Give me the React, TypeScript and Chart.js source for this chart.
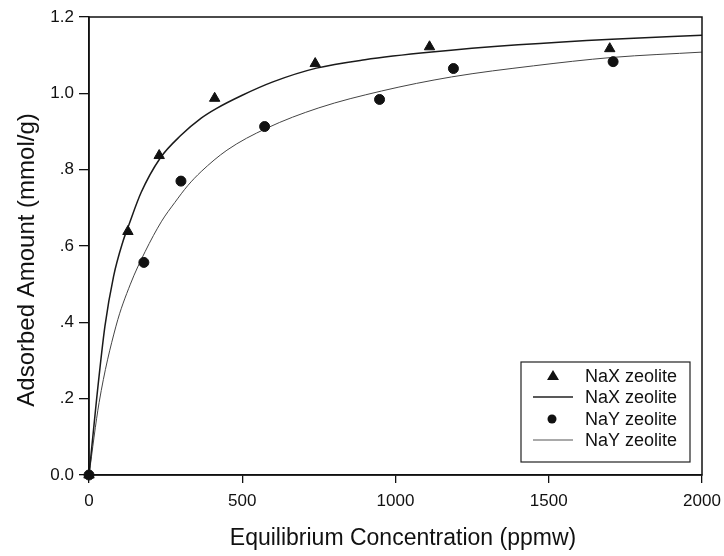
import React, { useEffect, useRef } from "react";
import { Chart, registerables } from "chart.js";

Chart.register(...registerables);

const naxConc = [0, 127, 229, 410, 738, 1111, 1699];
const naxAmount = [0, 0.638, 0.837, 0.987, 1.078, 1.122, 1.117];

const nayConc = [0, 179, 300, 573, 948, 1189, 1710];
const nayAmount = [0, 0.557, 0.77, 0.913, 0.984, 1.065, 1.083];

const naxFitConc = [0, 25, 52, 80, 110, 130, 170, 232, 300, 366, 415, 500, 600, 742, 900, 1118, 1400, 1706, 2000];
const naxFitAmount = [0, 0.2, 0.39, 0.52, 0.61, 0.655, 0.74, 0.83, 0.89, 0.935, 0.96, 0.995, 1.03, 1.066, 1.088, 1.108, 1.127, 1.142, 1.152];

const nayFitConc = [0, 33, 88, 135, 183, 237, 280, 322, 366, 450, 578, 750, 954, 1183, 1450, 1706, 2000];
const nayFitAmount = [0, 0.19, 0.39, 0.5, 0.585, 0.665, 0.714, 0.758, 0.795, 0.851, 0.908, 0.962, 1.006, 1.043, 1.072, 1.094, 1.108];

const xTicks = [0, 500, 1000, 1500, 2000];
const yTicks = [0, 0.2, 0.4, 0.6, 0.8, 1.0, 1.2];
const yTickLabels = ["0.0", ".2", ".4", ".6", ".8", "1.0", "1.2"];

const xTitle = "Equilibrium Concentration (ppmw)";
const yTitle = "Adsorbed Amount (mmol/g)";
const legendLabels = ["NaX zeolite", "NaX zeolite", "NaY zeolite", "NaY zeolite"];

const FONT = "'Liberation Sans', Arial, sans-serif";

const toXY = (xs: number[], ys: number[]) => xs.map((x, i) => ({ x, y: ys[i] }));

const framePlugin = {
  id: "frame",
  afterDraw(chart: any) {
    const { ctx, chartArea } = chart;
    ctx.save();
    ctx.strokeStyle = "#111";
    ctx.lineWidth = 1.5;
    ctx.strokeRect(chartArea.left, chartArea.top, chartArea.right - chartArea.left, chartArea.bottom - chartArea.top);

    // axis titles
    ctx.fillStyle = "#111";
    ctx.textBaseline = "alphabetic";
    ctx.textAlign = "center";
    ctx.font = `23px ${FONT}`;
    ctx.fillText(xTitle, 403, 545);
    ctx.save();
    ctx.translate(34, 260);
    ctx.rotate(-Math.PI / 2);
    ctx.font = `24px ${FONT}`;
    ctx.fillText(yTitle, 0, 0);
    ctx.restore();

    // legend box
    const bx = 521, by = 362, bw = 169, bh = 100;
    ctx.fillStyle = "#fff";
    ctx.fillRect(bx, by, bw, bh);
    ctx.lineWidth = 1.2;
    ctx.strokeStyle = "#222";
    ctx.strokeRect(bx, by, bw, bh);
    const rows = [376, 397, 419, 440];
    ctx.font = `18px ${FONT}`;
    ctx.fillStyle = "#111";
    ctx.textBaseline = "middle";
    ctx.textAlign = "left";
    rows.forEach((ry, i) => {
      ctx.fillText(legendLabels[i], 585, ry + 1);
    });
    // triangle
    ctx.beginPath();
    ctx.moveTo(553, rows[0] - 6);
    ctx.lineTo(559, rows[0] + 4);
    ctx.lineTo(547, rows[0] + 4);
    ctx.closePath();
    ctx.fill();
    // circle
    ctx.beginPath();
    ctx.arc(552, rows[2], 4.5, 0, Math.PI * 2);
    ctx.fill();
    // lines
    ctx.strokeStyle = "#222";
    ctx.lineWidth = 1.3;
    ctx.beginPath();
    ctx.moveTo(533, rows[1]);
    ctx.lineTo(573, rows[1]);
    ctx.stroke();
    ctx.strokeStyle = "#555";
    ctx.lineWidth = 1;
    ctx.beginPath();
    ctx.moveTo(533, rows[3]);
    ctx.lineTo(573, rows[3]);
    ctx.stroke();
    ctx.restore();
  },
};

export default function App() {
  const ref = useRef<HTMLCanvasElement | null>(null);
  useEffect(() => {
    if (!ref.current) return;
    const chart = new Chart(ref.current, {
      type: "scatter",
      data: {
        datasets: [
          {
            label: legendLabels[0],
            data: toXY(naxConc, naxAmount),
            pointStyle: "triangle",
            pointRadius: 6,
            backgroundColor: "#111",
            borderColor: "#111",
            showLine: false,
            clip: false,
          } as any,
          {
            label: legendLabels[1],
            data: toXY(naxFitConc, naxFitAmount),
            showLine: true,
            pointRadius: 0,
            borderColor: "#1a1a1a",
            borderWidth: 1.5,
            cubicInterpolationMode: "monotone",
          },
          {
            label: legendLabels[2],
            data: toXY(nayConc, nayAmount),
            pointStyle: "circle",
            pointRadius: 5,
            backgroundColor: "#111",
            borderColor: "#111",
            showLine: false,
            clip: false,
          } as any,
          {
            label: legendLabels[3],
            data: toXY(nayFitConc, nayFitAmount),
            showLine: true,
            pointRadius: 0,
            borderColor: "#444",
            borderWidth: 1,
            cubicInterpolationMode: "monotone",
          },
        ],
      },
      options: {
        animation: false,
        responsive: false,
        layout: { padding: { top: 17, right: 22, left: 0, bottom: 0 } },
        plugins: { legend: { display: false }, tooltip: { enabled: false } },
        scales: {
          x: {
            type: "linear",
            min: 0,
            max: 2000,
            afterBuildTicks: (s: any) => {
              s.ticks = xTicks.map((v) => ({ value: v }));
            },
            afterFit: (s: any) => {
              s.height = 81;
              s.paddingLeft = 0;
              s.paddingRight = 0;
            },
            ticks: {
              color: "#111",
              font: { family: FONT, size: 17 },
              padding: 8,
              maxRotation: 0,
              callback: (v: any) => String(v),
            },
            grid: { drawOnChartArea: false, drawTicks: true, tickLength: 8, color: "#111", lineWidth: 1.3 },
            border: { display: true, color: "#111", width: 1.5 },
            title: { display: false },
          },
          y: {
            type: "linear",
            min: 0,
            max: 1.2,
            afterBuildTicks: (s: any) => {
              s.ticks = yTicks.map((v) => ({ value: v }));
            },
            afterFit: (s: any) => {
              s.width = 89;
              s.paddingTop = 0;
              s.paddingBottom = 0;
            },
            ticks: {
              color: "#111",
              font: { family: FONT, size: 17 },
              padding: 5,
              callback: (v: any, i: number) => yTickLabels[i],
            },
            grid: { drawOnChartArea: false, drawTicks: true, tickLength: 10, color: "#111", lineWidth: 1.3 },
            border: { display: true, color: "#111", width: 1.5 },
            title: { display: false },
          },
        },
      },
      plugins: [framePlugin],
    });
    return () => chart.destroy();
  }, []);
  return (
    <div style={{ position: "fixed", left: 0, top: 0, width: 724, height: 556, background: "#fff" }}>
      <canvas ref={ref} width={724} height={556} style={{ display: "block" }} />
    </div>
  );
}
